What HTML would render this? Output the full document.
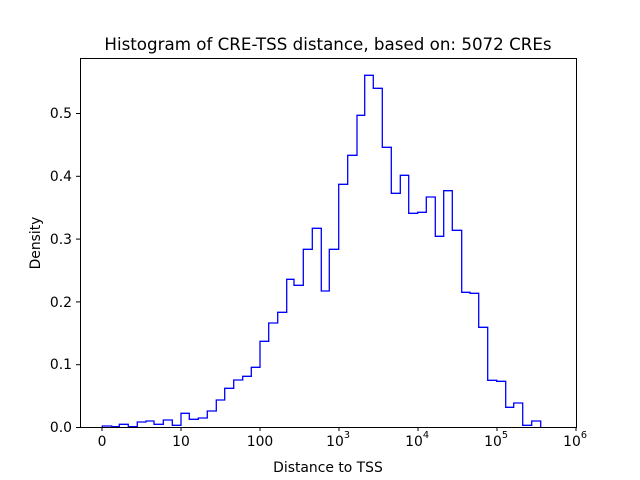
<!DOCTYPE html><html><head><style>body{margin:0;background:#fff}svg{display:block}text{font-family:"DejaVu Sans","Liberation Sans",sans-serif;fill:#000}</style></head><body>
<svg width="640" height="480" viewBox="0 0 640 480">
<rect x="0" y="0" width="640" height="480" fill="#fff"/>
<path fill="none" stroke="#0000ff" stroke-width="1.3" d="M102.3,427 V426 H111.7 V426.7 H119.3 V424.3 H128.3 V426.7 H137.3 V422 H146 V421 H154 V424.3 H163.3 V420 H172.3 V425.3 H181 V413.3 H189.3 V419.3 H198.3 V418 H207.3 V411 H216.3 V400 H224.7 V388.3 H233.7 V380 H242.7 V376.3 H251.3 V367.3 H260 V341.3 H268.7 V323 H277.7 V312.3 H286.7 V279.3 H294 V285.3 H303.3 V249.3 H312.3 V228.3 H321.3 V291 H329.3 V249.3 H338.7 V184.3 H347.7 V155.3 H357 V115.3 H364.7 V75.3 H373.3 V88.3 H382.3 V147.3 H391.3 V193.3 H400.3 V175.3 H408.7 V213.3 H417.7 V212.3 H426.3 V197 H435.3 V236.3 H443.7 V190.7 H452.3 V230.3 H461.7 V292.3 H470 V293.3 H478.7 V327.3 H487.7 V380.3 H496.7 V381.3 H505.7 V407.3 H513.7 V403 H522.7 V425.3 H531.7 V421 H540.7 V427"/>
<rect x="80.5" y="58.5" width="496" height="369" fill="none" stroke="#000" stroke-width="1"/>
<g stroke="#000" stroke-width="1">
<line x1="102" y1="427" x2="102" y2="431"/><line x1="181" y1="427" x2="181" y2="431"/><line x1="260" y1="427" x2="260" y2="431"/><line x1="339" y1="427" x2="339" y2="431"/><line x1="418" y1="427" x2="418" y2="431"/><line x1="497" y1="427" x2="497" y2="431"/><line x1="576" y1="427" x2="576" y2="431"/>
<line x1="76" y1="427.5" x2="80" y2="427.5"/><line x1="76" y1="364.7" x2="80" y2="364.7"/><line x1="76" y1="301.9" x2="80" y2="301.9"/><line x1="76" y1="239.1" x2="80" y2="239.1"/><line x1="76" y1="176.3" x2="80" y2="176.3"/><line x1="76" y1="113.5" x2="80" y2="113.5"/>
</g>
<g font-size="13.9" text-anchor="middle">
<text x="102" y="446">0</text><text x="181" y="446">10</text><text x="260" y="446">100</text>
<text x="335" y="446">10</text><text x="347" y="438" font-size="9.7">3</text>
<text x="414" y="446">10</text><text x="426" y="438" font-size="9.7">4</text>
<text x="493" y="446">10</text><text x="505" y="438" font-size="9.7">5</text>
<text x="572" y="446">10</text><text x="584" y="438" font-size="9.7">6</text>
</g>
<g font-size="13.9" text-anchor="end">
<text x="72" y="432">0.0</text><text x="72" y="369">0.1</text><text x="72" y="307">0.2</text><text x="72" y="244">0.3</text><text x="72" y="181">0.4</text><text x="72" y="118">0.5</text>
</g>
<text x="328" y="472" font-size="13.9" text-anchor="middle">Distance to TSS</text>
<text x="40" y="243" font-size="13.9" text-anchor="middle" transform="rotate(-90 40 243)">Density</text>
<text x="328" y="50" font-size="16.7" text-anchor="middle">Histogram of CRE-TSS distance, based on: 5072 CREs</text>
</svg></body></html>
